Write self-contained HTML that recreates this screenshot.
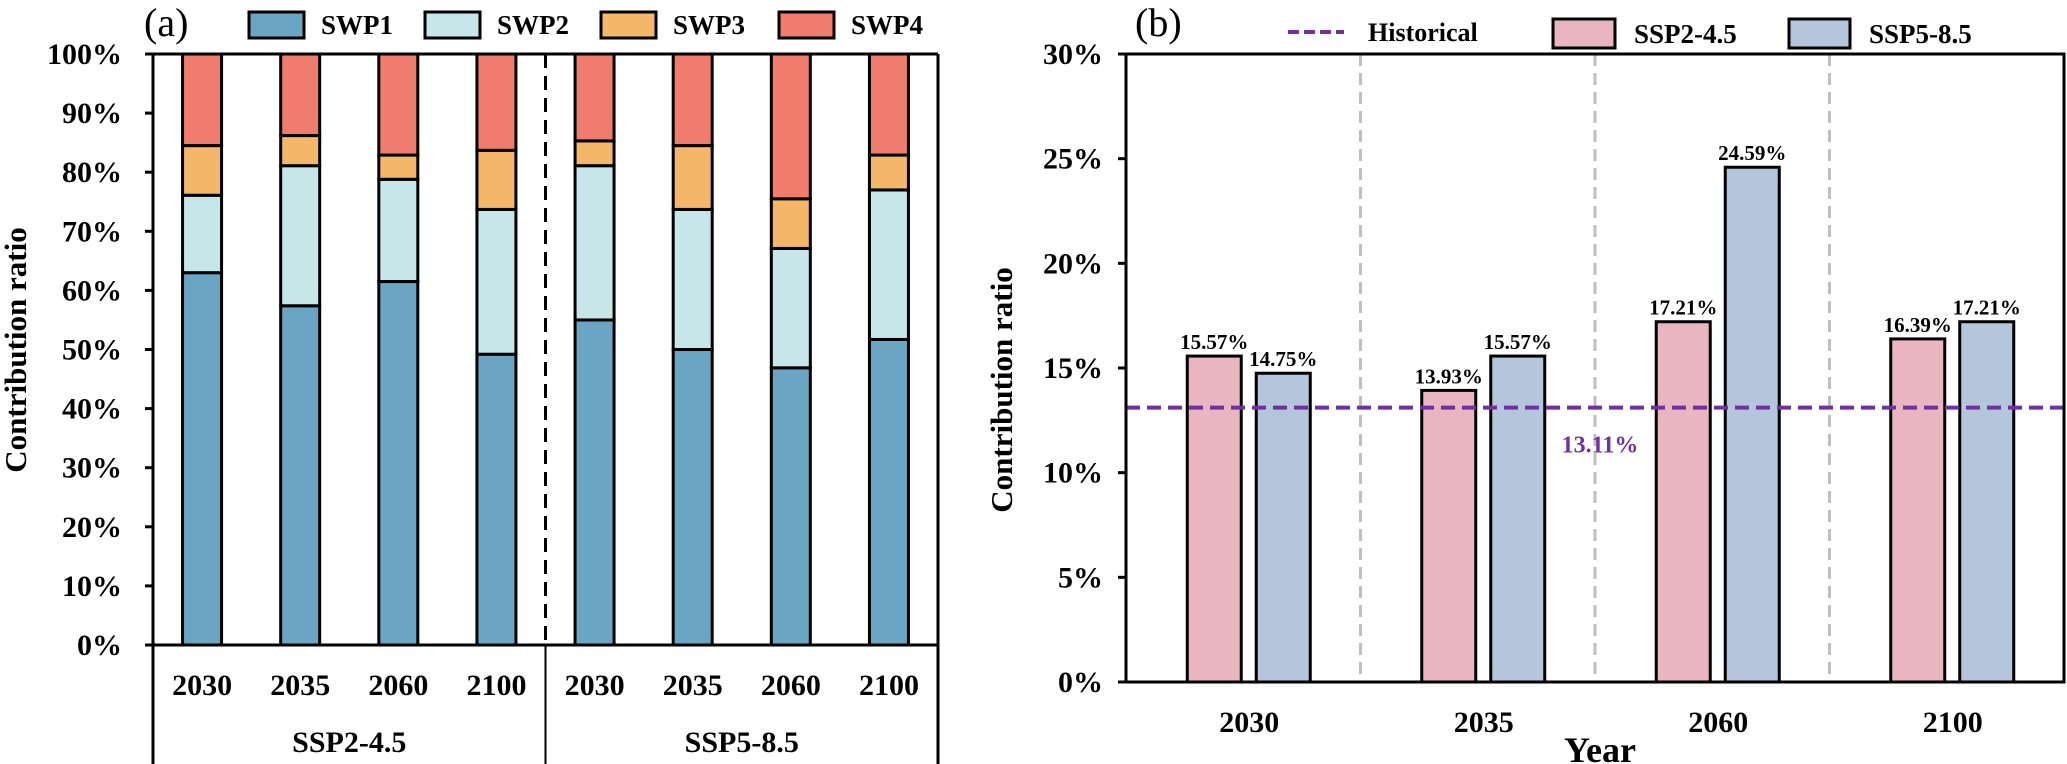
<!DOCTYPE html>
<html><head><meta charset="utf-8"><style>
html,body{margin:0;padding:0;background:#fff;}
svg{display:block;font-family:"Liberation Serif",serif;}
</style></head><body>
<svg id="fig" width="2067" height="764" viewBox="0 0 2067 764" xmlns="http://www.w3.org/2000/svg">
<g id="left"></g>
<g id="right"></g>
</svg>
<script>
// Panel (a) data
const aYears = ["2030","2035","2060","2100","2030","2035","2060","2100"];
const aScen = ["SSP2-4.5","SSP5-8.5"];
const swp1 = [63.0,57.4,61.5,49.2,55.0,50.0,46.9,51.7];
const swp2 = [13.1,23.7,17.3,24.5,26.1,23.7,20.2,25.3];
const swp3 = [8.4,5.1,4.1,10.0,4.2,10.8,8.4,5.9];
const swp4 = [15.5,13.8,17.1,16.3,14.7,15.5,24.5,17.1];
const aTicks = [0,10,20,30,40,50,60,70,80,90,100];
// Panel (b) data
const bYears = ["2030","2035","2060","2100"];
const ssp245 = [15.57,13.93,17.21,16.39];
const ssp585 = [14.75,15.57,24.59,17.21];
const historical = 13.11;
const bTicks = [0,5,10,15,20,25,30];

const NS="http://www.w3.org/2000/svg";
function mk(parent,tag,attrs,text){const e=document.createElementNS(NS,tag);for(const k in attrs)e.setAttribute(k,attrs[k]);if(text!==undefined)e.textContent=text;parent.appendChild(e);return e;}

// ---- Panel A ----
const L=document.getElementById('left');
const aX0=153,aX1=938,aY0=645,aY1=54;
const aCat=(aX1-aX0)/aYears.length;
const ay=v=>aY0-(v/100)*(aY0-aY1);
const colors=["#6aa6c4","#c6e6ea","#f4b669","#ef7c6c"];
const series=[swp1,swp2,swp3,swp4];
const sNames=["SWP1","SWP2","SWP3","SWP4"];
for(let i=0;i<aYears.length;i++){
  let cum=0;const cx=aX0+aCat*(i+0.5);
  for(let s=0;s<4;s++){
    const v=series[s][i];
    const r=mk(L,'rect',{x:cx-19.5,y:ay(cum+v),width:39,height:ay(cum)-ay(cum+v),fill:colors[s],stroke:'#000','stroke-width':3});
    
    
    cum+=v;
  }
  const t=mk(L,'text',{x:cx,y:695,'text-anchor':'middle','font-size':30,'font-weight':'bold'},aYears[i]);
  
  
}
// frame
mk(L,'line',{x1:aX0,y1:aY1,x2:aX1,y2:aY1,stroke:'#000','stroke-width':3});
mk(L,'line',{x1:aX1,y1:aY1,x2:aX1,y2:764,stroke:'#000','stroke-width':3});
mk(L,'line',{x1:aX0,y1:aY1,x2:aX0,y2:764,stroke:'#000','stroke-width':3});
mk(L,'line',{x1:aX0-8,y1:aY0,x2:aX1,y2:aY0,stroke:'#000','stroke-width':3});
const mid=(aX0+aX1)/2;
mk(L,'line',{x1:mid,y1:aY1,x2:mid,y2:aY0,stroke:'#000','stroke-width':3,'stroke-dasharray':'14,8'});
mk(L,'line',{x1:mid,y1:aY0,x2:mid,y2:764,stroke:'#000','stroke-width':2});
for(let j=0;j<2;j++){
  const t=mk(L,'text',{x:aX0+(aX1-aX0)*(j*2+1)/4,y:752,'text-anchor':'middle','font-size':30,'font-weight':'bold'},aScen[j]);
  
  
}
for(const v of aTicks){
  mk(L,'line',{x1:aX0-8,y1:ay(v),x2:aX0,y2:ay(v),stroke:'#000','stroke-width':3});
  const t=mk(L,'text',{x:122,y:ay(v)+10,'text-anchor':'end','font-size':30,'font-weight':'bold'},v+'%');
  
  
}
const at=mk(L,'text',{x:0,y:0,'text-anchor':'middle','font-size':31,'font-weight':'bold',transform:'translate(26,350) rotate(-90)'},'Contribution ratio');


const pa=mk(L,'text',{x:144,y:36,'font-size':40},'(a)');


const legX=[249,425,601,779];
for(let s=0;s<4;s++){
  const r=mk(L,'rect',{x:legX[s],y:12,width:55,height:26,fill:colors[s],stroke:'#000','stroke-width':3});
  
  
  const t=mk(L,'text',{x:legX[s]+72,y:34,'font-size':27,'font-weight':'bold'},sNames[s]);
  
  
}

// ---- Panel B ----
const R=document.getElementById('right');
const bX0=1126,bX1=2064,bY0=682,bY1=54;
const bCat=(bX1-bX0)/bYears.length;
const by=v=>bY0-(v/30)*(bY0-bY1);
for(let i=1;i<bYears.length;i++){
  const x=bX0+bCat*i;
  mk(R,'line',{x1:x,y1:bY1,x2:x,y2:bY0,stroke:'#bfbfbf','stroke-width':3,'stroke-dasharray':'12,7'});
}
for(let i=0;i<bYears.length;i++){
  const cx=bX0+bCat*(i+0.5);
  const vals=[ssp245[i],ssp585[i]],offs=[-29,40],cols=["#e8b5c0","#b4c6db"];
  for(let k=0;k<2;k++){
    const bx=cx+offs[k];
    const r=mk(R,'rect',{x:bx-27,y:by(vals[k]),width:54,height:bY0-by(vals[k]),fill:cols[k],stroke:'#000','stroke-width':3});
    
    
    const t=mk(R,'text',{x:bx,y:by(vals[k])-7,'text-anchor':'middle','font-size':21,'font-weight':'bold'},vals[k].toFixed(2)+'%');
    
    
  }
  const t=mk(R,'text',{x:cx+6,y:732,'text-anchor':'middle','font-size':30,'font-weight':'bold'},bYears[i]);
  
  
}
const hl=mk(R,'line',{x1:bX0,y1:by(historical),x2:bX1,y2:by(historical),stroke:'#7030a0','stroke-width':4,'stroke-dasharray':'14,7'});


const hv=mk(R,'text',{x:1600,y:by(historical)+45,'text-anchor':'middle','font-size':24,'font-weight':'bold',fill:'#7030a0'},historical.toFixed(2)+'%');


mk(R,'rect',{x:bX0,y:bY1,width:bX1-bX0,height:bY0-bY1,fill:'none',stroke:'#000','stroke-width':3});
for(const v of bTicks){
  mk(R,'line',{x1:bX0-8,y1:by(v),x2:bX0,y2:by(v),stroke:'#000','stroke-width':3});
  const t=mk(R,'text',{x:1103,y:by(v)+10,'text-anchor':'end','font-size':30,'font-weight':'bold'},v+'%');
  
  
}
const bt=mk(R,'text',{x:0,y:0,'text-anchor':'middle','font-size':31,'font-weight':'bold',transform:'translate(1012,390) rotate(-90)'},'Contribution ratio');


const xt=mk(R,'text',{x:1600,y:762,'text-anchor':'middle','font-size':36,'font-weight':'bold'},'Year');


const pb=mk(R,'text',{x:1135,y:36,'font-size':40},'(b)');


mk(R,'line',{x1:1288,y1:32,x2:1344,y2:32,stroke:'#7030a0','stroke-width':4,'stroke-dasharray':'11,5'});
const l1=mk(R,'text',{x:1368,y:41,'font-size':26,'font-weight':'bold'},'Historical');


mk(R,'rect',{x:1553,y:19,width:62,height:29,fill:'#e8b5c0',stroke:'#000','stroke-width':3});
const l2=mk(R,'text',{x:1634,y:43,'font-size':27,'font-weight':'bold'},'SSP2-4.5');


mk(R,'rect',{x:1789,y:19,width:61,height:29,fill:'#b4c6db',stroke:'#000','stroke-width':3});
const l3=mk(R,'text',{x:1869,y:43,'font-size':27,'font-weight':'bold'},'SSP5-8.5');


</script>
</body></html>
